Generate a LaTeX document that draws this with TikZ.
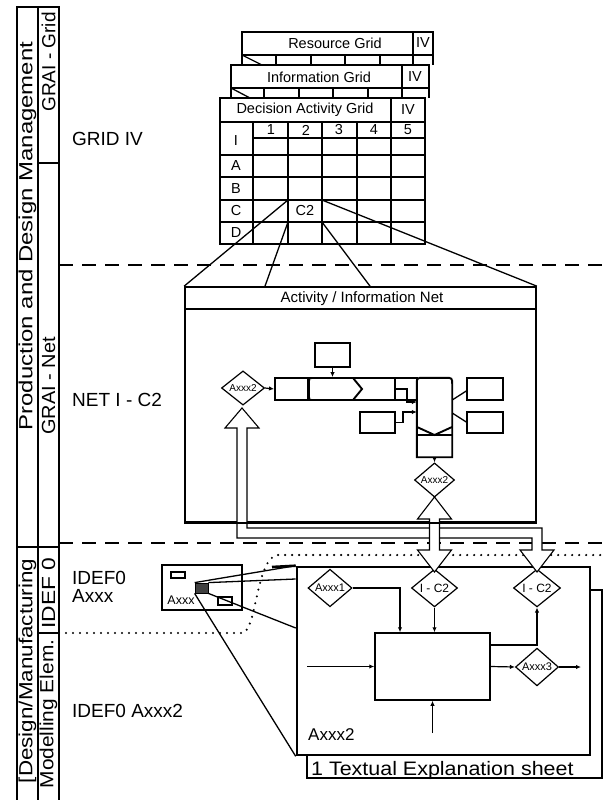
\documentclass[tikz,border=0pt]{standalone}
\usepackage{fontspec}
\setmainfont{Liberation Sans}
\usetikzlibrary{shapes.geometric,arrows.meta}
\begin{document}
\begin{tikzpicture}[x=1pt,y=-1pt,
  ln/.style={line width=1.3pt},
  lnb/.style={line width=1.9pt},
  box/.style={draw, rectangle, inner sep=0pt, line width=1.7pt},
  dia/.style={draw, diamond, line width=1.2pt, inner sep=0pt, fill=white, font=\fontsize{10}{10}\selectfont},
  hollow/.style={draw, line width=1.1pt, fill=white, line join=miter},
  arr/.style={-{Latex[length=5pt,width=4.5pt]}, line width=1.2pt},
  gtitle/.style={inner sep=0pt, font=\fontsize{14.5}{14.5}\selectfont},
  gcell/.style={inner sep=0pt, font=\fontsize{14.5}{14.5}\selectfont},
  bigtxt/.style={anchor=west, inner sep=0pt, font=\fontsize{19}{19}\selectfont},
  vlab/.style={rotate=90, inner sep=0pt, font=\fontsize{19}{19}\selectfont},
  dashln/.style={line width=1.6pt, dash pattern=on 14pt off 9pt},
  dotln/.style={line width=2.3pt, line cap=round, dash pattern=on 0pt off 7pt},
  gframe/.style={line width=1.6pt, fill=white},
]
\useasboundingbox (0,0) rectangle (604,800);
\fill[white] (0,0) rectangle (604,800);

% ---------- label columns ----------
\draw[ln] (17,800) -- (17,7) -- (59,7) -- (59,800);
\draw[ln] (38,7) -- (38,800);
\draw[ln] (38,163) -- (59,163);
\draw[ln] (17,547) -- (59,547);
\draw[ln] (38,633) -- (59,633);

\node[vlab] (lprod) at (27.5,236) {\scalebox{1.26}[1]{Production and Design Management}};
\node[vlab] (lgrid) at (48.5,62) {GRAI - Grid};
\node[vlab] (lnet) at (48.5,386) {\scalebox{1.05}[1]{GRAI - Net}};
\node[vlab] (lidef) at (48.5,593) {\scalebox{1.2}[1]{IDEF 0}};
\node[vlab] (lmod) at (48.5,714) {\scalebox{1.1}[1]{Modelling Elem.}};
\node[vlab] (ldes) at (27.5,671) {\scalebox{1.18}[1]{[Design/Manufacturing}};

% ---------- band separators ----------
\draw[dashln] (59,265) -- (604,265);
\draw[dashln] (59,543) -- (604,543);
\draw[dotln] (59,633) -- (243,633) .. controls (257,628) and (256,560) .. (277,555) -- (604,555);

% ---------- row labels ----------
\node[bigtxt] (tgrid) at (72,139) {GRID IV};
\node[bigtxt] (tnet) at (72,400) {NET I - C2};
\node[bigtxt] (tidefa) at (72,578) {IDEF0};
\node[bigtxt] (tidefb) at (72,596) {Axxx};
\node[bigtxt] (tidef2) at (72,711) {IDEF0 Axxx2};

% ---------- grids ----------
% Resource grid
\draw[gframe] (242,65) -- (242,32) -- (433,32) -- (433,65);
\draw[ln] (242,55) -- (433,55);
\draw[ln] (413,32) -- (413,65);
\draw[ln] (242,55) -- (262,65);
\foreach \x in {276,311,345,380} \draw[ln] (\x,55) -- (\x,65);
\node[gtitle] (tres) at (335,43) {Resource Grid};
\node[gcell] (mres) at (423,43) {IV};
% Information grid
\draw[gframe] (231,98) -- (231,65) -- (429,65) -- (429,98);
\draw[ln] (231,88) -- (429,88);
\draw[ln] (402,65) -- (402,98);
\draw[ln] (231,88) -- (250,98);
\foreach \x in {264,299,333,368} \draw[ln] (\x,88) -- (\x,98);
\node[gtitle] (tinf) at (319,77) {Information Grid};
\node[gcell] (minf) at (415,77) {IV};
% Decision activity grid
\draw[gframe] (220,98) rectangle (425,244);
\draw[ln] (220,122) -- (425,122);
\draw[ln] (391,98) -- (391,122);
\draw[ln] (253,138) -- (425,138);
\draw[line width=2.5pt] (220,155) -- (425,155);
\draw[line width=2.5pt] (253,122) -- (253,244);
\foreach \x in {288,322,357,391} \draw[ln] (\x,122) -- (\x,244);
\foreach \y in {177,200,222} \draw[ln] (220,\y) -- (425,\y);
\node[gtitle] (tdec) at (305,110) {Decision Activity Grid};
\node[gcell] (mdec) at (408,110) {IV};
\node[gcell] (hI) at (236,141) {I};
\foreach \n/\x in {1/271,2/306,3/339,4/374,5/408} \node[gcell] (h\n) at (\x,130) {\n};
\foreach \r/\y in {A/166,B/188.5,C/211,D/233} \node[gcell] (r\r) at (236,\y) {\r};
\node[gcell] (c2) at (305,211) {C2};
\coordinate (c2tl) at (288,200);
\coordinate (c2tr) at (322,200);
\coordinate (c2bl) at (288,222);
\coordinate (c2br) at (322,222);

% ---------- net ----------
\node[box, minimum width=351pt, minimum height=235pt] (net) at (360.5,404.5) {};
\draw[line width=2.3pt] ([yshift=-23pt]net.north west) -- ([yshift=-23pt]net.north east);
\node[gtitle, font=\fontsize{15}{15}\selectfont] (nettitle) at (362,299) {Activity / Information Net};
\draw[ln] (c2tl) -- (net.north west);
\draw[ln] (c2bl) -- (265,0 |- net.north);
\draw[ln] (c2br) -- (370,0 |- net.north);
\draw[ln] (c2tr) -- (net.north east);

\node[box, line width=1.5pt, minimum width=35pt, minimum height=24pt] (ntop) at (332.5,355) {};
\node[box, line width=1.9pt, minimum width=142pt, minimum height=22pt] (bar) at (346,389) {};
\draw[lnb] (308,378) -- (308,400);
\draw[lnb] (313,378) -- (353,378) -- (362,389) -- (353,400) -- (313,400) .. controls (309,400) .. (309,395) -- (309,383) .. controls (309,378) .. (313,378);
\draw[lnb] (395,378) -- (395,400);
\node[box, line width=1.5pt, minimum width=35pt, minimum height=21pt] (nbox2) at (377.5,422.5) {};
\node[minimum width=35pt, minimum height=79pt, inner sep=0pt] (cyl) at (434.5,417.5) {};
\draw[lnb, fill=white] (cyl.south west) -- ([yshift=-7pt]cyl.north west) .. controls (cyl.north west) .. ([xshift=7pt]cyl.north west) -- ([xshift=-7pt]cyl.north east) .. controls (cyl.north east) .. ([yshift=-7pt]cyl.north east) -- (cyl.south east) -- cycle;
\draw[lnb] (417,427) -- (434.5,435) -- (452,427);
\draw[lnb] (417,435) -- (452,435);
\node[box, line width=1.5pt, minimum width=36pt, minimum height=22pt] (nr1) at (485,389) {};
\node[box, line width=1.5pt, minimum width=36pt, minimum height=21pt] (nr2) at (485,422.5) {};
\node[dia, minimum width=43pt, minimum height=27pt] (nl) at (243,388) {Axxx2};
\node[dia, minimum width=40pt, minimum height=26pt] (nb) at (434.5,480) {Axxx2};

\draw[arr] (ntop.south) -- (ntop.south |- bar.north);
\draw[arr] (nl.east) -- (bar.west);
\draw[arr] (395,389) -- (407,389) -- (407,402) -- (cyl.west |- 0,402);
\draw[arr] (nbox2.east) -- (403,422.5) -- (403,412) -- (cyl.west |- 0,412);
\draw[ln] (cyl.east |- 0,400) -- (nr1.west |- 0,391);
\draw[ln] (cyl.east |- 0,413) -- (nr2.west |- 0,422);
\draw[arr] (cyl.south) -- (nb.north);

% ---------- IDEF0 ----------
\node[box, fill=white, line width=1.5pt, minimum width=295pt, minimum height=188pt] (sheet) at (454.5,684) {};
\node[box, fill=white, line width=2.6pt, minimum width=293pt, minimum height=188pt] (idef) at (443.5,661) {};
\draw[line width=2.6pt] (272,567) -- (idef.north west);
\node[anchor=base west, inner sep=0pt, font=\fontsize{19.5}{19.5}\selectfont] (tes) at (311,775) {\scalebox{1.1}[1]{1 Textual Explanation sheet}};
\node[anchor=west, inner sep=0pt, font=\fontsize{17}{17}\selectfont] (alab) at (308,735) {Axxx2};

\node[box, line width=1.5pt, minimum width=115pt, minimum height=67pt] (act) at (432.5,666.5) {};
\node[dia, font=\fontsize{11}{11}\selectfont, minimum width=44pt, minimum height=23pt] (d1) at (330,588) {Axxx1};
\node[dia, font=\fontsize{12}{12}\selectfont, minimum width=46pt, minimum height=23pt] (ic1) at (434.5,588) {I - C2};
\node[dia, font=\fontsize{12}{12}\selectfont, minimum width=47pt, minimum height=23pt] (ic2) at (537,588) {I - C2};
\node[dia, font=\fontsize{11}{11}\selectfont, minimum width=43pt, minimum height=21pt] (d3) at (537,667) {Axxx3};
\coordinate (in0) at (307,666.5);
\coordinate (out0) at (581,667);
\coordinate (mech0) at (432.5,733);

\draw[arr] (d1.east) -| (400,0 |- act.north);
\draw[arr] (ic1.south) -- (ic1.south |- act.north);
\draw[arr] (act.east |- 0,645) -| (ic2.south);
\draw[arr] (in0) -- (act.west);
\draw[arr] (act.east) -- (d3.west);
\draw[arr] (d3.east) -- (out0);
\draw[arr] (mech0) -- (act.south);

% small IDEF0 box
\node[box, fill=white, line width=1.5pt, minimum width=80pt, minimum height=45pt] (axxx) at (202,587.5) {};
\draw[ln] (171,572) rectangle (185,578);
\draw[ln] (218,597) rectangle (232,605);
\node[inner sep=0pt, font=\fontsize{12.5}{12.5}\selectfont] (axtxt) at (181,600) {Axxx};
\node[draw, fill=black!75, inner sep=0pt, minimum width=13pt, minimum height=10pt, line width=0.8pt] (sq) at (201.5,588) {};
\draw[ln] (sq.north west) -- (idef.north west);
\draw[ln] (sq.north east) -- (idef.west |- 0,579);
\draw[ln] (sq.south east) -- (idef.west |- 0,628);
\draw[ln] (sq.south west) -- (idef.south west);

% ---------- hollow double arrows ----------
\draw[hollow] (242,408) -- (259,428) -- (247,428) -- (247,528) -- (542,528) -- (542,550) -- (554,550) -- (537,572) -- (520,550) -- (532,550) -- (532,538) -- (237,538) -- (237,428) -- (225,428) -- cycle;
\draw[hollow] (434.5,497) -- (451.5,519) -- (439.5,519) -- (439.5,550) -- (451.5,550) -- (434.5,572) -- (417.5,550) -- (429.5,550) -- (429.5,519) -- (417.5,519) -- cycle;
\draw[line width=1.7pt] (net.south west) -- (net.south east);
\end{tikzpicture}
\end{document}
